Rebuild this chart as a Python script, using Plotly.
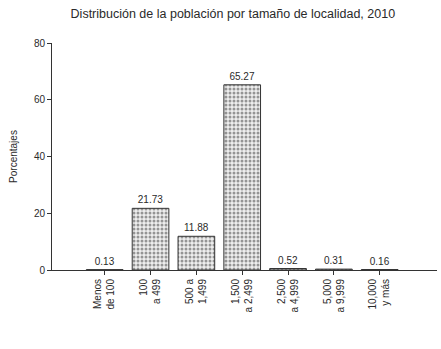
import plotly.graph_objects as go

# Tamaño de localidad (número de habitantes)
categorias = ["Menos<br>de 100", "100<br>a 499", "500 a<br>1,499", "1,500<br>a 2,499",
              "2,500<br>a 4,999", "5,000<br>a 9,999", "10,000<br>y más"]
# Porcentaje de la población
porcentajes = [0.13, 21.73, 11.88, 65.27, 0.52, 0.31, 0.16]
etiquetas = ["0.13", "21.73", "11.88", "65.27", "0.52", "0.31", "0.16"]

y_ticks = [0, 20, 40, 60, 80]

fuente = "Liberation Sans, Arial, sans-serif"
tinta = "#2a2a2a"

fig = go.Figure(
    go.Bar(
        x=list(range(len(categorias))),
        y=porcentajes,
        width=0.8,
        text=etiquetas,
        textposition="outside",
        cliponaxis=False,
        textfont=dict(family=fuente, size=10, color=tinta),
        marker=dict(
            color="#d8d8d8",
            line=dict(color="#333333", width=1),
            pattern=dict(shape=".", fgcolor="#3a3a3a", bgcolor="#eeeeee",
                         size=4, solidity=0.45),
        ),
    )
)

fig.update_layout(
    width=441,
    height=349,
    margin=dict(l=52, r=4, t=43, b=79),
    paper_bgcolor="white",
    plot_bgcolor="white",
    showlegend=False,
    font=dict(family=fuente, color=tinta, size=10),
    title=dict(
        text="Distribución de la población por tamaño de localidad, 2010",
        x=0.528, xanchor="center", xref="container",
        y=0.962, yanchor="middle", yref="container",
        font=dict(family=fuente, size=12.5, color=tinta),
    ),
    bargap=0.2,
)

fig.update_xaxes(
    range=[-1.15, 7.25],
    tickmode="array",
    tickvals=list(range(len(categorias))),
    ticktext=categorias,
    tickangle=-90,
    ticks="outside",
    ticklen=4,
    tickcolor="#333",
    showline=True,
    linecolor="#333",
    linewidth=1,
    showgrid=False,
    zeroline=False,
    tickfont=dict(family=fuente, size=10, color=tinta),
)

fig.update_yaxes(
    range=[0, 80],
    tickmode="array",
    tickvals=y_ticks,
    ticks="outside",
    ticklen=4,
    tickcolor="#333",
    showline=True,
    linecolor="#333",
    linewidth=1,
    showgrid=False,
    zeroline=False,
    tickfont=dict(family=fuente, size=10, color=tinta),
    title=dict(text="Porcentajes", font=dict(family=fuente, size=10, color=tinta), standoff=14),
)

fig.write_html("out.html")
